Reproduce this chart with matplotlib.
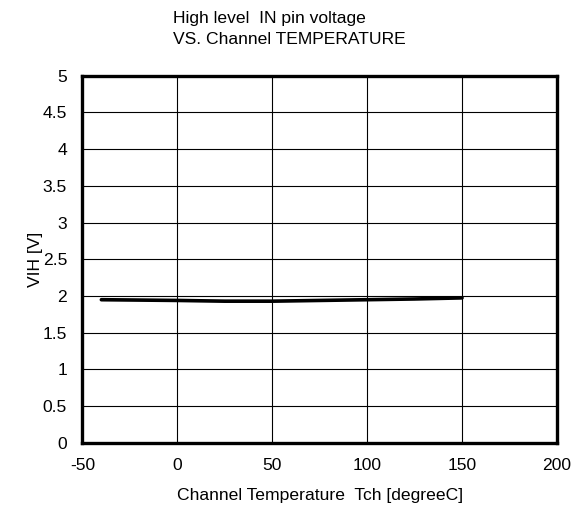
import matplotlib.pyplot as plt
import numpy as np

plt.rcParams['font.family'] = ['Liberation Sans', 'DejaVu Sans']
plt.rcParams['axes.unicode_minus'] = False

# temperature [degC] vs high level IN pin voltage [V]
temp = [-40, 0, 25, 50, 75, 100, 125, 150]
vih = [1.95, 1.94, 1.93, 1.93, 1.94, 1.95, 1.96, 1.975]

xticks = [-50, 0, 50, 100, 150, 200]
yticks = [0, 0.5, 1, 1.5, 2, 2.5, 3, 3.5, 4, 4.5, 5]
ytick_labels = ['0', '0.5', '1', '1.5', '2', '2.5', '3', '3.5', '4', '4.5', '5']

fs = 12.6

fig = plt.figure(figsize=(5.76, 5.12), dpi=100)
ax = fig.add_axes([0.143, 0.135, 0.824, 0.717])

ax.plot(temp, vih, color='black', linewidth=2.6, solid_capstyle='round', zorder=3)

ax.set_xlim(-50, 200)
ax.set_ylim(0, 5)
ax.set_xticks(xticks)
ax.set_yticks(yticks)
ax.set_yticklabels(ytick_labels)
ax.grid(True, color='black', linewidth=0.8)
ax.tick_params(length=0, labelsize=fs)
ax.tick_params(axis='y', pad=11)
ax.tick_params(axis='x', pad=11)
for sp in ax.spines.values():
    sp.set_linewidth(2.4)

ax.set_xlabel('Channel Temperature  Tch [degreeC]', fontsize=fs, labelpad=11)
ax.set_ylabel('VIH [V]', fontsize=fs, labelpad=0)

fig.text(173/576, 1 - 11/512, 'High level  IN pin voltage\nVS. Channel TEMPERATURE',
         ha='left', va='top', fontsize=fs, linespacing=1.5)

fig.savefig('out.png', dpi=100)
